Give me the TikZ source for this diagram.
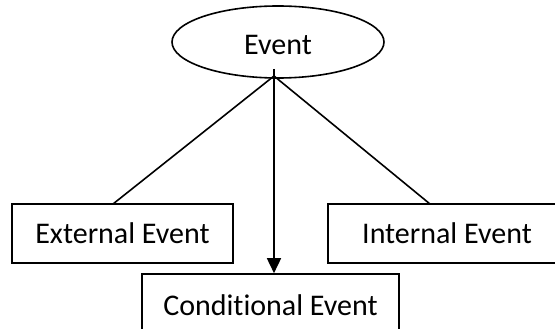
\documentclass[tikz,border=0pt]{standalone}
\usepackage{fontspec}
\setmainfont[Ligatures={NoCommon,NoContextual}]{Carlito}
\usetikzlibrary{arrows.meta,shapes.geometric}
\tikzset{
  txt/.style={font=\fontsize{30}{35}\selectfont},
  box/.style={draw, line width=1.6pt, rectangle, inner sep=0pt, txt},
  oval/.style={draw, line width=1.6pt, ellipse, inner sep=0pt},
  link/.style={line width=1.6pt},
}
\begin{document}
\begin{tikzpicture}[x=1pt,y=-1pt]
\useasboundingbox (0,0) rectangle (555,329);
\node[oval, minimum width=212pt, minimum height=72pt] (ev) at (278,42) {};
\node[txt, inner sep=0pt] (evt) at (278,45) {Event};
\node[box, minimum width=221pt, minimum height=59pt] (ext) at (122.5,233.5) {External Event};
\node[box, minimum width=238pt, minimum height=59pt] (int) at (447,233.5) {Internal Event};
\node[box, minimum width=257pt, minimum height=62pt] (cond) at (270.5,305) {Conditional Event};
\coordinate (hub) at (274,76);
\coordinate (vtop) at (274,69);
\coordinate (extt) at (113,204);
\coordinate (intt) at (430,204);
\draw[link] (hub) -- (extt);
\draw[link] (hub) -- (intt);
\draw[link, -{Triangle[width=14pt,length=15pt]}] (vtop) -- (vtop |- cond.north);
\end{tikzpicture}
\end{document}
